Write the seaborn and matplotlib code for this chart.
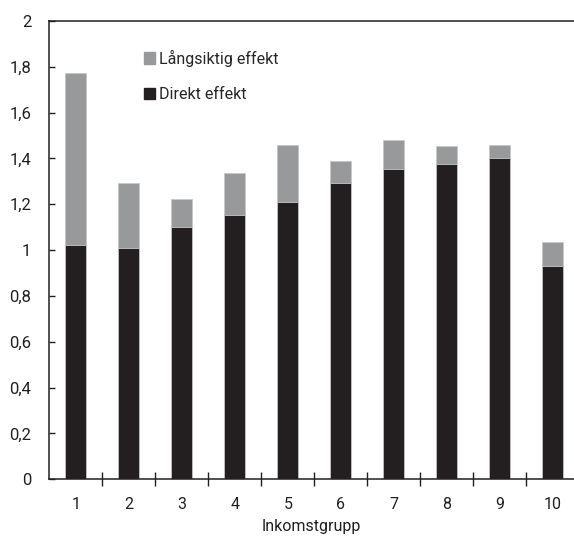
import numpy as np
import pandas as pd
import matplotlib
matplotlib.use('Agg')
import matplotlib.pyplot as plt
import matplotlib.patches as mpatches
from matplotlib.ticker import FuncFormatter
import seaborn as sns

# data
grupper = ['1', '2', '3', '4', '5', '6', '7', '8', '9', '10']
direkt = [1.022, 1.010, 1.099, 1.153, 1.211, 1.291, 1.352, 1.377, 1.403, 0.932]
langsiktig = [0.749, 0.283, 0.123, 0.182, 0.249, 0.096, 0.128, 0.077, 0.054, 0.103]

svart = '#231f20'
gra = '#98999b'

sns.set_style('white')
plt.rcParams['font.family'] = ['Roboto', 'DejaVu Sans']

df = pd.DataFrame({'grupp': grupper, 'direkt': direkt, 'langsiktig': langsiktig})
df['total'] = df['direkt'] + df['langsiktig']

fig = plt.figure(figsize=(5.74, 5.36), dpi=100)
ax = fig.add_axes([0.086, 0.106, 0.914, 0.855])

sns.barplot(data=df, x='grupp', y='total', color=gra, saturation=1, width=0.4,
            edgecolor='#c8c8c8', linewidth=0.6, ax=ax)
sns.barplot(data=df, x='grupp', y='direkt', color=svart, saturation=1, width=0.4,
            edgecolor='#c8c8c8', linewidth=0.6, ax=ax)

ax.set_ylim(0, 2)
ax.set_xlim(-0.5, 9.4)
ax.set_yticks(np.arange(0, 2.01, 0.2))
ax.yaxis.set_major_formatter(FuncFormatter(lambda v, p: f'{v:.1f}'.rstrip('0').rstrip('.').replace('.', ',')))

ax.set_xticks(range(10))
ax.set_xticklabels(grupper)
ax.set_xticks(np.arange(0.5, 9.0, 1.0), minor=True)
ax.tick_params(axis='x', which='major', bottom=True, length=0, pad=13, labelsize=11.5,
               colors='#231f20')
ax.tick_params(axis='x', which='minor', bottom=True, direction='inout', length=10, width=1,
               color='#231f20')
ax.tick_params(axis='y', left=True, direction='in', length=4, width=1, color='#231f20', pad=13,
               labelsize=12, labelcolor='#231f20')

ax.set_xlabel('Inkomstgrupp', fontsize=11.5, color='#231f20', labelpad=5)
ax.set_ylabel('')

for side in ['left', 'bottom', 'top']:
    ax.spines[side].set_color('#231f20')
    ax.spines[side].set_linewidth(1.1)
ax.spines['right'].set_visible(False)

handles = [mpatches.Patch(color=gra, label='Långsiktig effekt'),
           mpatches.Patch(color=svart, label='Direkt effekt')]
ax.legend(handles=handles, loc='upper left', bbox_to_anchor=(0.165, 0.955),
          frameon=False, fontsize=11.5, handlelength=0.7, handleheight=0.7,
          handletextpad=0.25, labelspacing=1.3, borderpad=0)

fig.savefig('out.png', dpi=100)
